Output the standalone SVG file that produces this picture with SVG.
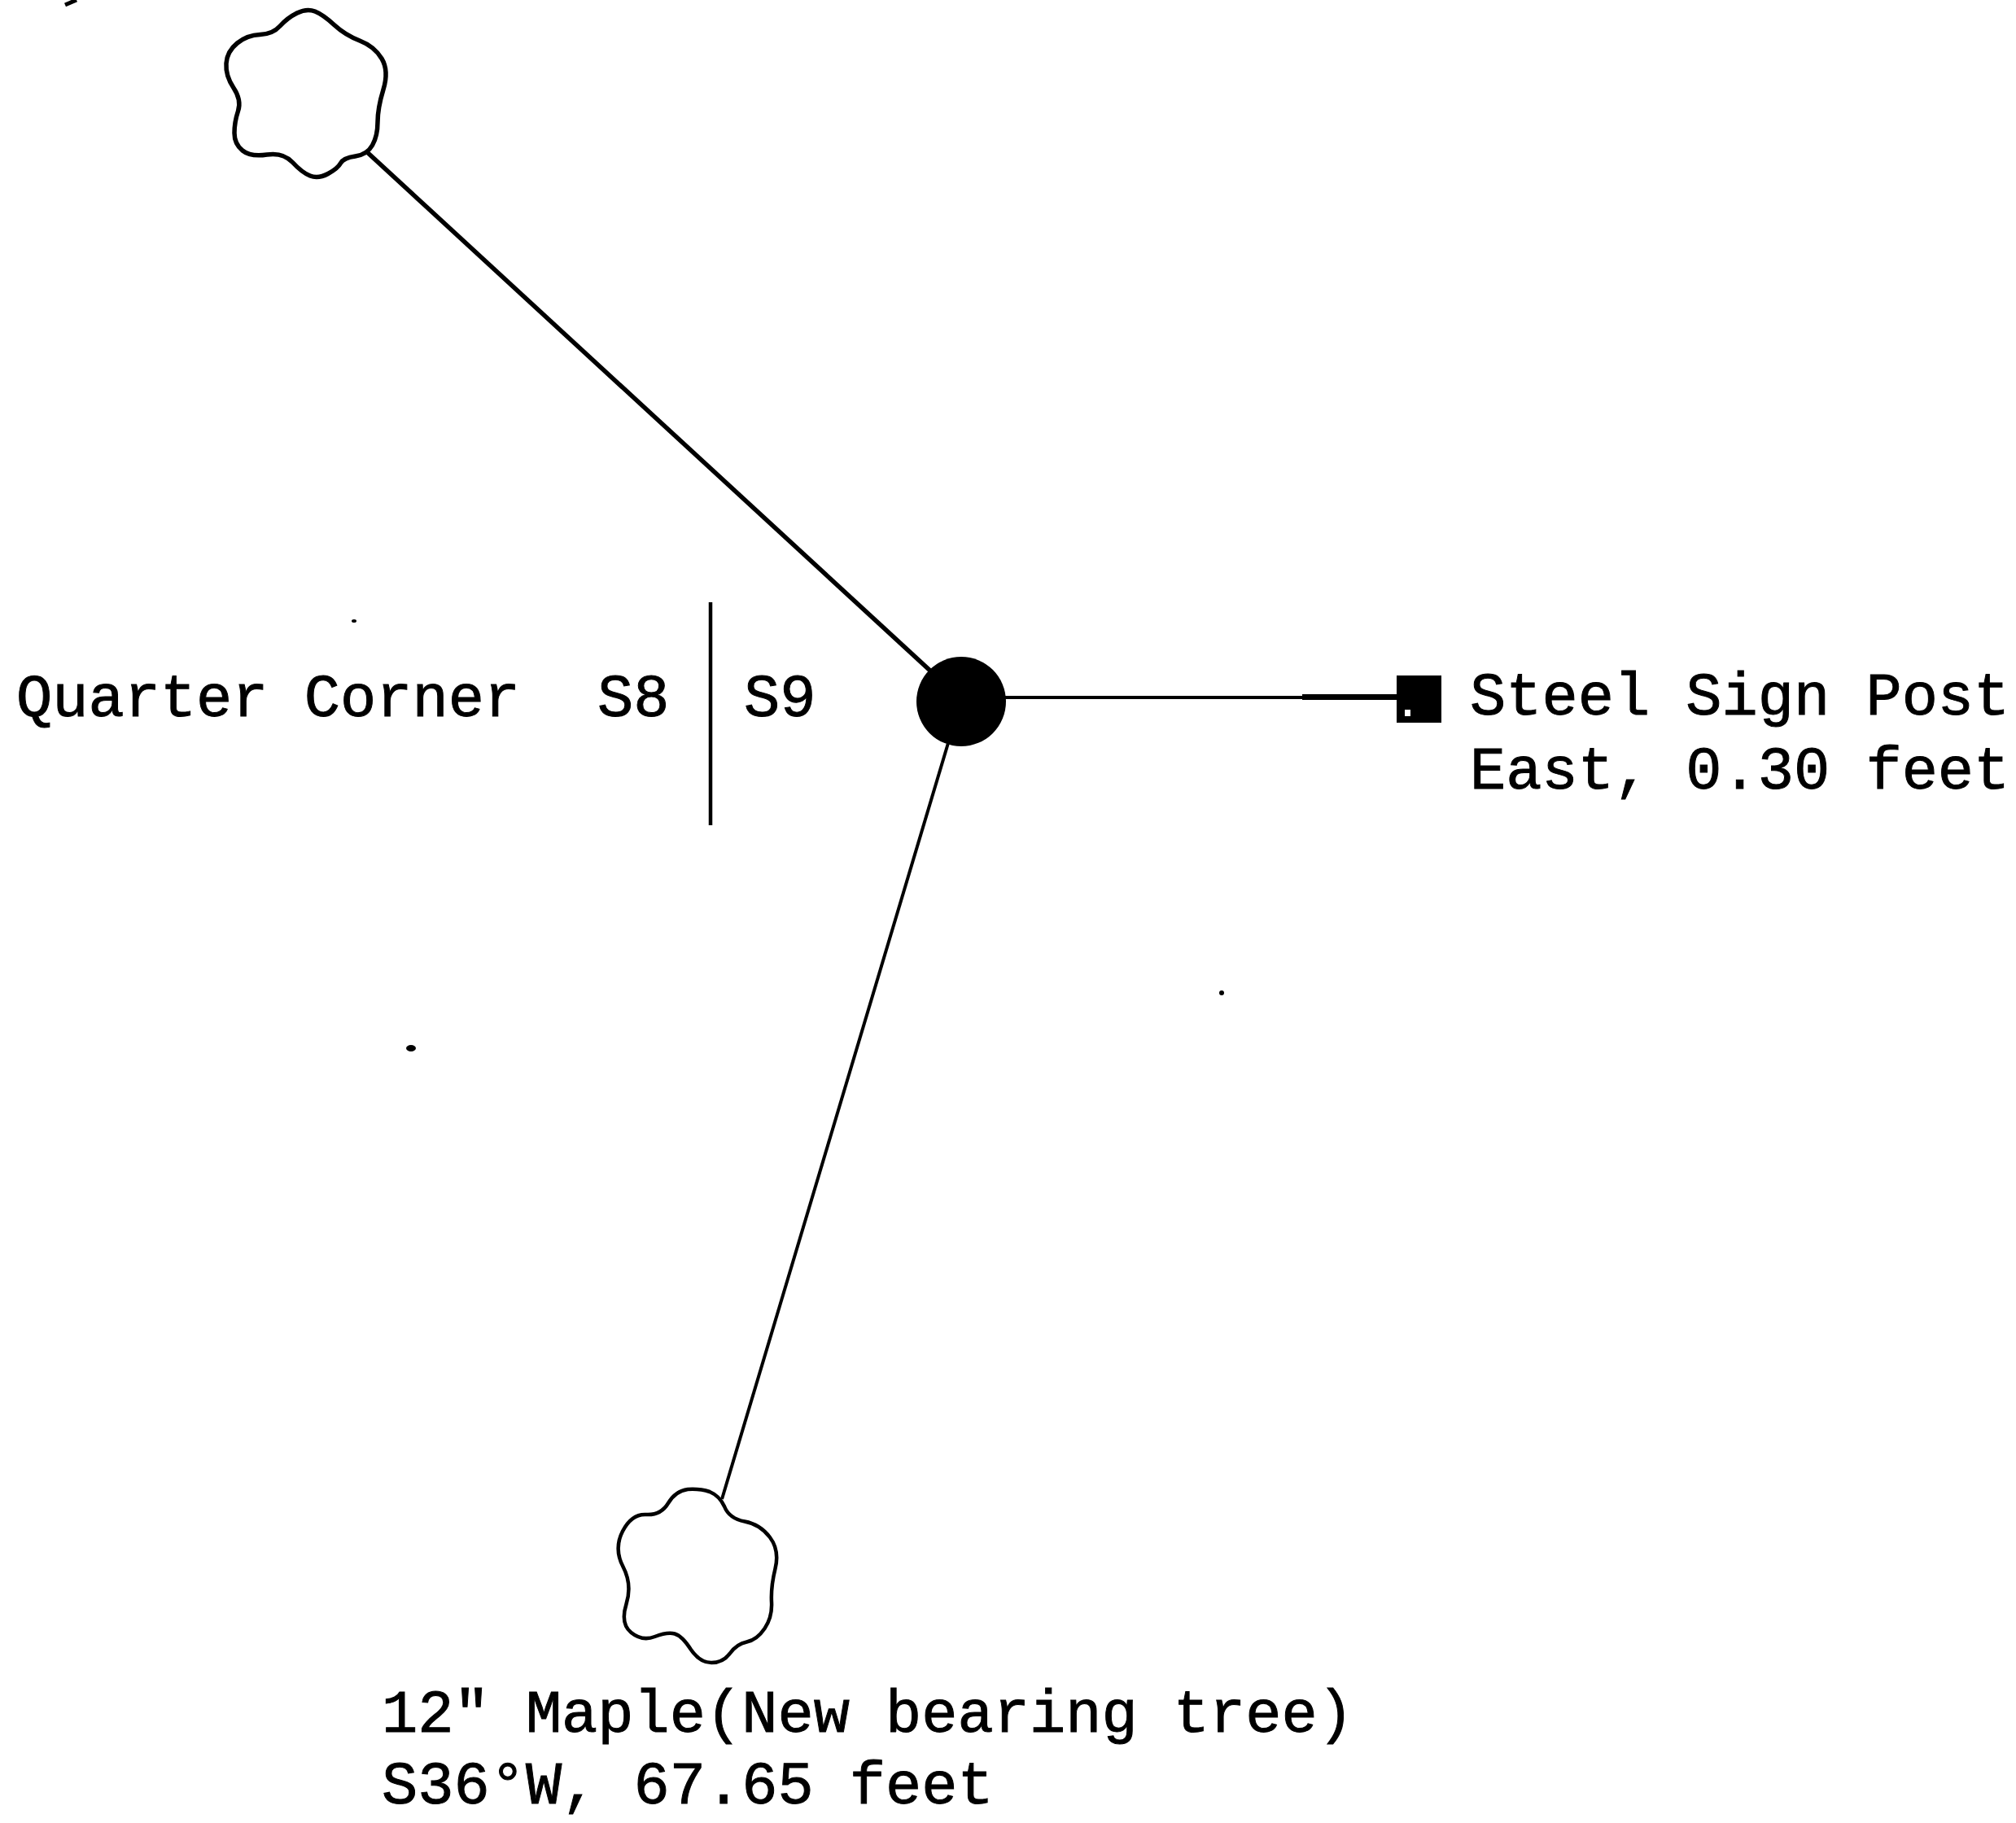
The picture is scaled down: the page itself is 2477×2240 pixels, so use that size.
<svg xmlns="http://www.w3.org/2000/svg" width="2477" height="2240" viewBox="0 0 2477 2240">
<style>
.t{font-family:"Liberation Mono","DejaVu Sans Mono",monospace;font-size:73.7px;fill:#000;stroke:#000;stroke-width:1px}
.tree{fill:none;stroke:#000;stroke-width:5.500px;stroke-linejoin:round}
.c{stroke:#000;fill:none;stroke-linecap:butt}
</style>
<rect width="2477" height="2240" fill="#fff"/>
<g id="connectors">
<line class="c" x1="450" y1="186" x2="1145" y2="826" stroke-width="5.500"/>
<line class="c" x1="1165" y1="913" x2="887" y2="1842" stroke-width="4"/>
<line class="c" x1="1230" y1="857" x2="1600" y2="857" stroke-width="4"/>
<line class="c" x1="1600" y1="856.500" x2="1720" y2="856.500" stroke-width="7"/>
</g>
<g id="section-line"><line class="c" x1="873" y1="740" x2="873" y2="1014" stroke-width="4.500"/></g>
<g id="tree-north">
<path class="tree" d="M457.500,178.500Q464,167 464,150Q464,133 471,110Q478,87 469,72Q460,57 442,50Q424,43 410.500,30.500Q397,18 387,14Q377,10 365,16Q353,22 344,32Q335,42 319.500,42.500Q304,43 291.500,53Q279,63 278,78Q277,93 287,108Q297,123 292.500,136.500Q288,150 288,163.500Q288,177 298,185Q308,193 328,190Q348,187 359.500,199.500Q371,212 381,216Q391,220 403,213.500Q415,207 418.500,200.500Q422,194 436.500,192Q451,190 457.500,178.500Z"/>
</g>
<g id="quarter-corner">
<ellipse cx="1181" cy="862" rx="55" ry="55" fill="#000"/>
<text class="t" x="20" y="880">Quarter Corner</text>
<text class="t" x="734" y="880">S8</text>
<text class="t" x="914" y="880">S9</text>
</g>
<g id="sign-post">
<rect x="1716" y="830" width="55" height="58" fill="#000"/>
<rect x="1726" y="872" width="7" height="8" fill="#fff"/>
<text class="t" x="1806" y="878">Steel Sign Post</text>
<text class="t" x="1806" y="969">East, 0.30 feet</text>
</g>
<g id="tree-maple">
<path class="tree" style="stroke-width:4.500px" d="M872,1833Q884,1838 890,1851Q896,1866 915,1869.500Q934,1873 946,1889Q958,1905 952.500,1927.500Q947,1950 948,1968.500Q949,1987 939.500,2001Q930,2015 917.500,2017.500Q905,2020 896.500,2032Q888,2043 874,2043Q860,2043 849,2027Q838,2010 829,2007.500Q820,2005 804.500,2011Q789,2017 775.500,2006Q762,1995 769.500,1971Q777,1947 765.500,1925Q754,1903 765,1881.500Q776,1860 794,1861Q812,1862 821,1847Q830,1832 845,1830Q860,1829 872,1833Z"/>
<text class="t" x="469" y="2128">12" Maple(New bearing tree)</text>
<text class="t" x="469" y="2216">S36°W, 67.65 feet</text>
</g>
<g id="marks" fill="#000">
<path d="M80,6L94,0" stroke="#000" stroke-width="5" fill="none"/>
<ellipse cx="435" cy="763" rx="3" ry="2"/>
<ellipse cx="505" cy="1288" rx="6" ry="4"/>
<ellipse cx="1501" cy="1220" rx="3" ry="3"/>
</g>
</svg>
